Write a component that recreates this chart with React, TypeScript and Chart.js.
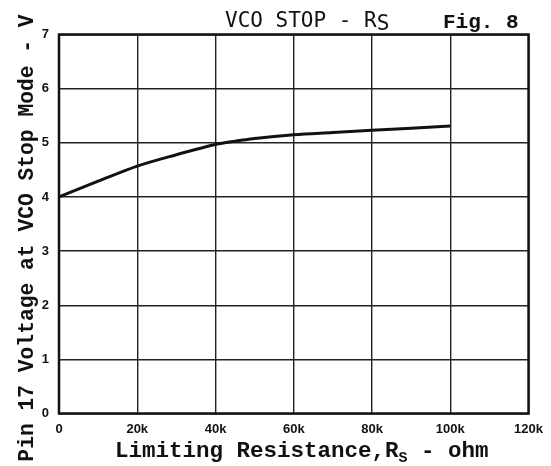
import React, { useEffect, useRef } from "react";
import { Chart, registerables } from "chart.js";

Chart.register(...registerables);

// ---- data ----
const resistanceOhm = [0, 10000, 20000, 30000, 40000, 45000, 50000, 60000, 70000, 80000, 90000, 100000];
const pin17Voltage = [4.0, 4.29, 4.57, 4.78, 4.97, 5.03, 5.08, 5.15, 5.19, 5.23, 5.27, 5.31];
const xTickLabels = ["0", "20k", "40k", "60k", "80k", "100k", "120k"];
const yTickLabels = ["0", "1", "2", "3", "4", "5", "6", "7"];

const titleMain = "VCO STOP - R";
const titleSub = "S";
const figLabel = "Fig. 8";
const xTitleMain = "Limiting Resistance,R";
const xTitleSub = "S";
const xTitleTail = " - ohm";
const yTitle = "Pin 17 Voltage at VCO Stop Mode - V";

const INK = "#111111";
const MONO = "'Liberation Mono', 'DejaVu Sans Mono', monospace";
const TICKFONT = "'Liberation Sans Narrow', 'Liberation Sans', Arial, sans-serif";

const decorPlugin = {
  id: "decor",
  beforeDraw(chart: any) {
    const { ctx, width, height } = chart;
    ctx.save();
    ctx.fillStyle = "#ffffff";
    ctx.fillRect(0, 0, width, height);
    ctx.restore();
  },
  afterDraw(chart: any) {
    const { ctx, chartArea } = chart;
    const { left, right, top, bottom } = chartArea;
    ctx.save();
    // frame
    ctx.strokeStyle = INK;
    ctx.lineWidth = 2.5;
    ctx.strokeRect(left, top, right - left, bottom - top);

    ctx.fillStyle = INK;
    ctx.textAlign = "left";
    ctx.textBaseline = "alphabetic";

    // title
    ctx.font = `normal 21px 'DejaVu Sans Mono', monospace`;
    const tx = 225;
    const ty = 27;
    ctx.fillText(titleMain, tx, ty);
    const tw = ctx.measureText(titleMain).width;
    ctx.fillText(titleSub, tx + tw, ty + 3);

    // fig label
    ctx.font = `bold 21px ${MONO}`;
    ctx.fillText(figLabel, 443, 28);

    // x title with subscript
    ctx.font = `bold 22.5px ${MONO}`;
    const xx = 115;
    const xy = 457;
    ctx.fillText(xTitleMain, xx, xy);
    let w = ctx.measureText(xTitleMain).width;
    ctx.font = `bold 15px ${MONO}`;
    ctx.fillText(xTitleSub, xx + w, xy + 5);
    w += ctx.measureText(xTitleSub).width;
    ctx.font = `bold 22.5px ${MONO}`;
    ctx.fillText(xTitleTail, xx + w, xy);

    // y title rotated
    ctx.font = `bold 21.3px ${MONO}`;
    ctx.translate(33, 238);
    ctx.rotate(-Math.PI / 2);
    ctx.textAlign = "center";
    ctx.fillText(yTitle, 0, 0);
    ctx.restore();
  },
};

export default function App() {
  const ref = useRef<HTMLCanvasElement | null>(null);

  useEffect(() => {
    if (!ref.current) return;
    const chart = new Chart(ref.current, {
      type: "line",
      data: {
        datasets: [
          {
            data: resistanceOhm.map((x, i) => ({ x, y: pin17Voltage[i] })),
            borderColor: INK,
            borderWidth: 3,
            pointRadius: 0,
            fill: false,
            cubicInterpolationMode: "monotone",
          },
        ],
      },
      options: {
        animation: false,
        responsive: false,
        devicePixelRatio: 1,
        layout: { padding: { top: 34.5, right: 22, left: 0, bottom: 0 } },
        plugins: {
          legend: { display: false },
          tooltip: { enabled: false },
          title: { display: false },
        },
        scales: {
          x: {
            type: "linear",
            min: 0,
            max: 120000,
            afterFit: (s: any) => {
              s.height = 52.5;
            },
            border: { display: false },
            grid: { color: "#222222", lineWidth: 1.4, drawTicks: false },
            ticks: {
              stepSize: 20000,
              padding: 8,
              color: INK,
              font: { family: TICKFONT, size: 13, weight: "bold" },
              maxRotation: 0,
              autoSkip: false,
              callback: (_v: any, i: number) => xTickLabels[i],
            },
          },
          y: {
            type: "linear",
            min: 0,
            max: 7,
            afterFit: (s: any) => {
              s.width = 59;
            },
            border: { display: false },
            grid: { color: "#222222", lineWidth: 1.4, drawTicks: false },
            ticks: {
              stepSize: 1,
              padding: 10,
              color: INK,
              font: { family: TICKFONT, size: 13, weight: "bold" },
              callback: (_v: any, i: number) => yTickLabels[i],
            },
          },
        },
      },
      plugins: [decorPlugin],
    } as any);
    return () => chart.destroy();
  }, []);

  return (
    <div style={{ position: "absolute", left: 0, top: 0, width: 551, height: 466, background: "#fff" }}>
      <canvas ref={ref} width={551} height={466} style={{ display: "block" }} />
    </div>
  );
}
